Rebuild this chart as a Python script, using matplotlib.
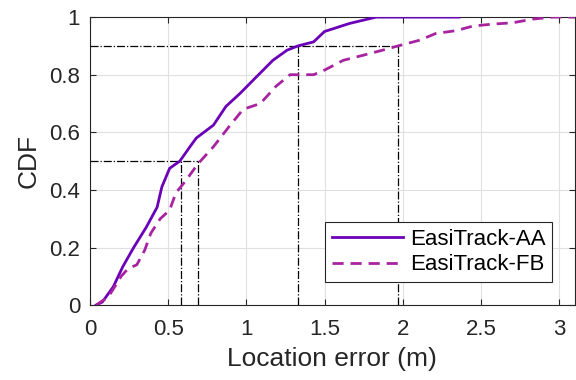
import numpy as np
import matplotlib
matplotlib.use('Agg')
import matplotlib.pyplot as plt

plt.rcParams['font.family'] = ['Liberation Sans', 'DejaVu Sans']

# EasiTrack-AA cdf points
aa_x = [0.04, 0.08, 0.15, 0.21, 0.28, 0.36, 0.43, 0.46, 0.51, 0.575, 0.64, 0.68, 0.79, 0.87,
        0.96, 1.06, 1.17, 1.26, 1.33, 1.43, 1.50, 1.66, 1.83, 2.36]
aa_y = [0.0, 0.011, 0.064, 0.133, 0.20, 0.27, 0.34, 0.41, 0.475, 0.50, 0.55, 0.58, 0.625, 0.69,
        0.735, 0.79, 0.85, 0.885, 0.90, 0.914, 0.95, 0.978, 1.0, 1.0]

# EasiTrack-FB
fb_x = [0.04, 0.12, 0.20, 0.245, 0.30, 0.35, 0.39, 0.45, 0.51, 0.55, 0.61, 0.67, 0.69, 0.79,
        0.89, 0.98, 1.09, 1.19, 1.28, 1.43, 1.50, 1.62, 1.75, 1.87, 1.97, 2.11, 2.21, 2.34,
        2.45, 2.58, 2.70, 2.83, 2.96, 3.1]
fb_y = [0.0, 0.03, 0.10, 0.127, 0.14, 0.19, 0.25, 0.30, 0.33, 0.39, 0.43, 0.475, 0.49, 0.55,
        0.62, 0.68, 0.70, 0.76, 0.80, 0.80, 0.816, 0.85, 0.868, 0.885, 0.90, 0.92, 0.943, 0.953,
        0.969, 0.976, 0.98, 0.993, 1.0, 1.0]

# marked percentiles: (cdf level, AA error, FB error)
marks = [(0.5, 0.58, 0.69), (0.9, 1.33, 1.97)]

fig = plt.figure(figsize=(5.76, 3.8), dpi=100)
ax = fig.add_axes([0.156, 0.197, 0.842, 0.758])

for lvl, xa, xf in marks:
    ax.plot([0, xf], [lvl, lvl], color='k', ls='-.', lw=0.9)
    ax.plot([xa, xa], [0, lvl], color='k', ls='-.', lw=0.9)
    ax.plot([xf, xf], [0, lvl], color='k', ls='-.', lw=0.9)

ax.plot(aa_x, aa_y, color='#6a00b8', lw=2, label='EasiTrack-AA', zorder=3)
ax.plot(fb_x, fb_y, color='#a8239f', lw=2, ls=(0, (4, 2.5)), label='EasiTrack-FB', zorder=3)

ax.set_xlim(0, 3.1)
ax.set_ylim(0, 1)
ax.set_xticks([0, 0.5, 1, 1.5, 2, 2.5, 3])
ax.set_xticklabels(['0', '0.5', '1', '1.5', '2', '2.5', '3'])
ax.set_yticks([0, 0.2, 0.4, 0.6, 0.8, 1])
ax.set_yticklabels(['0', '0.2', '0.4', '0.6', '0.8', '1'])
ax.grid(True, color='#e0e0e0', lw=0.8)
ax.set_axisbelow(True)
ax.tick_params(direction='in', top=True, right=True, labelsize=16, colors='#262626', length=4)
ax.tick_params(axis='x', pad=10)
ax.tick_params(axis='y', pad=7)
for s in ax.spines.values():
    s.set_color('#262626')
ax.set_xlabel('Location error (m)', fontsize=19, color='#262626', labelpad=5)
ax.set_ylabel('CDF', fontsize=19, color='#262626', labelpad=6)

leg = ax.legend(loc='lower right', bbox_to_anchor=(0.953, 0.08), borderaxespad=0,
                fontsize=16, fancybox=False, edgecolor='#262626', framealpha=1,
                handlelength=3.2, handletextpad=0.3, labelspacing=0.2, borderpad=0.3)
leg.get_frame().set_linewidth(0.8)

fig.savefig('out.png', dpi=100)
